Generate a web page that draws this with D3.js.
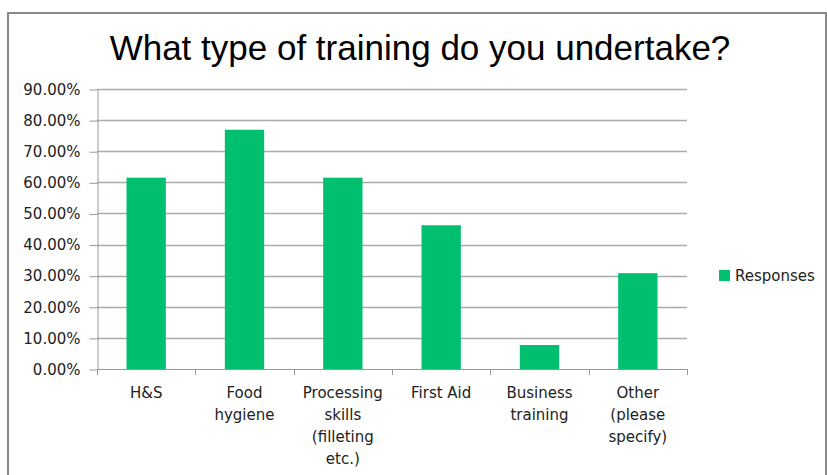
<!DOCTYPE html>
<html>
<head>
<meta charset="utf-8">
<script src="https://cdn.jsdelivr.net/npm/d3@7"></script>
<style>
  body { margin: 0; background: #fff; }
  svg { display: block; }
</style>
</head>
<body>
<div id="chart"></div>
<script>
// data
var categories = ["H&S", "Food hygiene", "Processing skills (filleting etc.)", "First Aid", "Business training", "Other (please specify)"];
var categoryLines = [["H&S"], ["Food", "hygiene"], ["Processing", "skills", "(filleting", "etc.)"], ["First Aid"], ["Business", "training"], ["Other", "(please", "specify)"]];
var responses = [0.615, 0.769, 0.615, 0.462, 0.077, 0.308];
var yTicks = [0, 0.1, 0.2, 0.3, 0.4, 0.5, 0.6, 0.7, 0.8, 0.9];
var seriesName = "Responses";
var title = "What type of training do you undertake?";

var svgWidth = 827;
var svgHeight = 475;

var plot = { left: 97, right: 687, top: 89, bottom: 369 };
var labelFont = 'DejaVu Sans, sans-serif';

var svg = d3.select('#chart').append('svg')
    .attr('width', svgWidth)
    .attr('height', svgHeight);

// outer chart border
svg.append('rect')
    .attr('x', 8)
    .attr('y', 13)
    .attr('width', 818)
    .attr('height', 480)
    .attr('fill', 'none')
    .attr('stroke', '#898989')
    .attr('stroke-width', 2);

var xScale = d3.scaleBand()
    .domain(categories)
    .range([plot.left, plot.right])
    .paddingInner(0.6)
    .paddingOuter(0.3);

var yScale = d3.scaleLinear()
    .domain([0, 0.9])
    .range([plot.bottom, plot.top]);

// gridlines
svg.append('g')
    .selectAll('line')
    .data(yTicks.slice(1))
    .enter()
    .append('line')
    .attr('x1', plot.left)
    .attr('x2', plot.right)
    .attr('y1', d => Math.round(yScale(d)) + 0.5)
    .attr('y2', d => Math.round(yScale(d)) + 0.5)
    .attr('stroke', '#ababab')
    .attr('stroke-width', 1.3);

// bars
svg.append('g')
    .selectAll('rect')
    .data(responses)
    .enter()
    .append('rect')
    .attr('x', (d, i) => xScale(categories[i]))
    .attr('y', d => yScale(d))
    .attr('width', xScale.bandwidth())
    .attr('height', d => plot.bottom - yScale(d))
    .attr('fill', '#00BF6F');

// y axis
var yAxis = d3.axisLeft(yScale)
    .tickValues(yTicks)
    .tickFormat(d => (d * 100).toFixed(2) + '%')
    .tickSizeInner(8)
    .tickSizeOuter(0)
    .tickPadding(9);

var yG = svg.append('g')
    .attr('transform', `translate(${plot.left + 0.5}, 0.5)`)
    .call(yAxis);

yG.selectAll('line, path').attr('stroke', '#999');
yG.selectAll('text')
    .attr('font-family', labelFont)
    .attr('font-size', '15px')
    .attr('fill', '#222');

// x axis line and ticks at category boundaries
var step = xScale.step();
svg.append('line')
    .attr('x1', plot.left)
    .attr('x2', plot.right)
    .attr('y1', plot.bottom + 0.5)
    .attr('y2', plot.bottom + 0.5)
    .attr('stroke', '#999');

svg.append('g')
    .selectAll('line')
    .data(d3.range(categories.length + 1))
    .enter()
    .append('line')
    .attr('x1', i => Math.round(plot.left + i * step) + 0.5)
    .attr('x2', i => Math.round(plot.left + i * step) + 0.5)
    .attr('y1', plot.bottom)
    .attr('y2', plot.bottom + 6)
    .attr('stroke', '#999');

// category labels
var labels = svg.append('g')
    .selectAll('text')
    .data(categories)
    .enter()
    .append('text')
    .attr('y', 398)
    .attr('text-anchor', 'middle')
    .attr('font-family', labelFont)
    .attr('font-size', '15px')
    .attr('fill', '#222');

labels.each(function(d, i) {
    var t = d3.select(this);
    var x = xScale(d) + xScale.bandwidth() / 2;
    categoryLines[i].forEach(function(line, j) {
        t.append('tspan')
            .attr('x', x)
            .attr('dy', j === 0 ? 0 : 22)
            .text(line);
    });
});

// title
svg.append('text')
    .attr('x', 420)
    .attr('y', 60)
    .attr('text-anchor', 'middle')
    .attr('font-family', 'Liberation Sans, Arial, sans-serif')
    .attr('font-size', '35px')
    .attr('fill', '#000')
    .text(title);

// legend
var legend = svg.append('g');
legend.append('rect')
    .attr('x', 719)
    .attr('y', 270)
    .attr('width', 11)
    .attr('height', 11)
    .attr('fill', '#00BF6F');
legend.append('text')
    .attr('x', 735)
    .attr('y', 281)
    .attr('font-family', labelFont)
    .attr('font-size', '15px')
    .attr('fill', '#222')
    .text(seriesName);
</script>
</body>
</html>
